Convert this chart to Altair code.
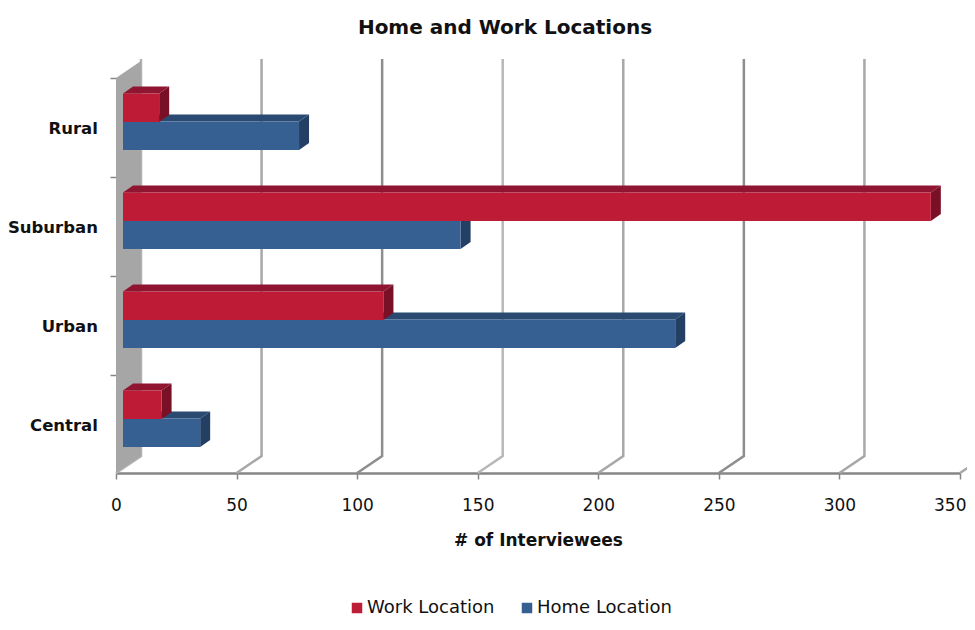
import altair as alt
import pandas as pd

# ---- chart values ----
categories = ["Rural", "Suburban", "Urban", "Central"]
work_location = [15, 335, 108, 16]
home_location = [73, 140, 229, 32]
x_ticks = [0, 50, 100, 150, 200, 250, 300, 350]
grid_colors = ["#b3b3b3", "#a8a8a8", "#8e8e8e", "#b8b8b8", "#a8a8a8", "#8e8e8e", "#a8a8a8", "#a8a8a8"]

FONT = "DejaVu Sans"
PX = 844 / 350          # pixels per interviewee
ROW = 99                # height of a category band
H = 415                 # plot height
FLOOR_X, FLOOR_Y = 25 / PX, 17
BAR_X, BAR_Y = 10 / PX, 7
BASE = 7 / PX
BAR_H = 28.5


def band_top(i):
    return 395 - ROW * i


x_sc = alt.Scale(domain=[0, 350], nice=False, zero=False)
y_sc = alt.Scale(domain=[0, H], nice=False, zero=False)

x_axis = alt.Axis(
    values=x_ticks, grid=False, format="d",
    domainColor="#868686", domainWidth=2.5, tickColor="#868686", tickWidth=1.5, tickSize=6,
    labelFont=FONT, labelFontSize=17, labelColor="#111111", labelPadding=18, labelFlush=False, labelOverlap=False,
    labelAlign=alt.expr("datum.value == 350 ? 'right' : 'center'"),
    labelOffset=alt.expr("datum.value == 350 ? 6 : 0"),
    titleFont=FONT, titleFontSize=17, titleFontWeight="bold", titleColor="#111111", titlePadding=19,
)
y_axis = alt.Axis(
    values=[band_top(i) for i in range(5)], grid=False, domain=False, labels=False,
    tickColor="#868686", tickWidth=1.5, tickSize=6,
)


def X(f="x"):
    return alt.X(f"{f}:Q", scale=x_sc, axis=x_axis, title="# of Interviewees")


def Y(f="y"):
    return alt.Y(f"{f}:Q", scale=y_sc, axis=y_axis, title=None)


# ---- bars as front, top and side faces ----
fronts, tops, sides = [], [], []
for series, vals, off in (("Home Location", home_location, 43.5), ("Work Location", work_location, 15.5)):
    for i, v in enumerate(vals):
        hi = band_top(i) - off
        lo = hi - BAR_H
        x0, x1 = BASE, BASE + v
        key = f"{series}{i}"
        fronts.append(dict(series=series, x=x0, x2=x1, y=lo, y2=hi))
        for xx, a, b in ((x0, hi, hi), (x0 + BAR_X, hi + BAR_Y, hi), (x1, hi + BAR_Y, hi), (x1 + BAR_X, hi + BAR_Y, hi + BAR_Y)):
            tops.append(dict(series=series, key=key, x=xx, y=a, y2=b))
        for xx, a, b in ((x1, hi, lo), (x1 + BAR_X, hi + BAR_Y, lo + BAR_Y)):
            sides.append(dict(series=series, key=key, x=xx, y=a, y2=b))
fronts, tops, sides = pd.DataFrame(fronts), pd.DataFrame(tops), pd.DataFrame(sides)

# ---- back wall and floor lines ----
wall = pd.DataFrame([dict(x=0, y=band_top(0), y2=0), dict(x=FLOOR_X, y=band_top(0) + FLOOR_Y, y2=FLOOR_Y)])
grid = []
for t, c in zip(x_ticks, grid_colors):
    grid += [
        dict(t=t, c=c, i=0, x=t, y=0),
        dict(t=t, c=c, i=1, x=t + FLOOR_X, y=FLOOR_Y),
        dict(t=t, c=c, i=2, x=t + FLOOR_X, y=H - 1),
    ]
grid = pd.DataFrame(grid)

labels = pd.DataFrame(dict(cat=categories, x=[-7.5] * 4, y=[band_top(i) - ROW / 2 for i in range(4)]))

wall_l = alt.Chart(wall).mark_area(orient="vertical", color="#a6a6a6").encode(
    x=X(), y=Y(), y2="y2:Q")
grid_l = alt.Chart(grid).mark_line(strokeWidth=2.5, clip=False).encode(
    x=X(), y=Y(), detail="t:Q", order="i:Q", color=alt.Color("c:N", scale=None))


def top_l(series, color):
    return alt.Chart(tops[tops.series == series]).mark_area(orient="vertical", color=color).encode(
        x=X(), y=Y(), y2="y2:Q", detail="key:N")


def side_l(series, color):
    return alt.Chart(sides[sides.series == series]).mark_area(orient="vertical", color=color).encode(
        x=X(), y=Y(), y2="y2:Q", detail="key:N")


legend = alt.Legend(
    orient="none", legendX=232, legendY=541, direction="horizontal", columns=2, title=None,
    symbolType="square", symbolSize=110, symbolStrokeWidth=0, columnPadding=23,
    labelFont=FONT, labelFontSize=18, labelColor="#111111", labelOffset=1,
)
color = alt.Color(
    "series:N", legend=legend, sort=None,
    scale=alt.Scale(domain=["Work Location", "Home Location"], range=["#be1c36", "#366092"]),
)


def front_l(series):
    return alt.Chart(fronts[fronts.series == series]).mark_rect().encode(
        x=X(), x2="x2:Q", y=Y(), y2="y2:Q", color=color)


text_l = alt.Chart(labels).mark_text(
    align="right", baseline="middle", dy=1, font=FONT, fontSize=16.5, fontWeight="bold", color="#111111", clip=False
).encode(x=X(), y=Y(), text="cat:N")

chart = alt.layer(
    grid_l, wall_l,
    top_l("Home Location", "#2a4a72"), side_l("Home Location", "#233f63"), front_l("Home Location"),
    top_l("Work Location", "#901530"), side_l("Work Location", "#7a1026"), front_l("Work Location"),
    text_l,
).properties(
    width=844, height=H,
    autosize="none",
    padding={"left": 108, "right": 7, "top": 50, "bottom": 144},
    background="white",
    title=alt.TitleParams(
        "Home and Work Locations", font=FONT, fontSize=20, fontWeight="bold", color="#111111",
        dx=-33, offset=16, anchor="middle",
    ),
).configure_view(stroke=None)

chart.save("out.html", embed_options={"renderer": "svg", "actions": False})
